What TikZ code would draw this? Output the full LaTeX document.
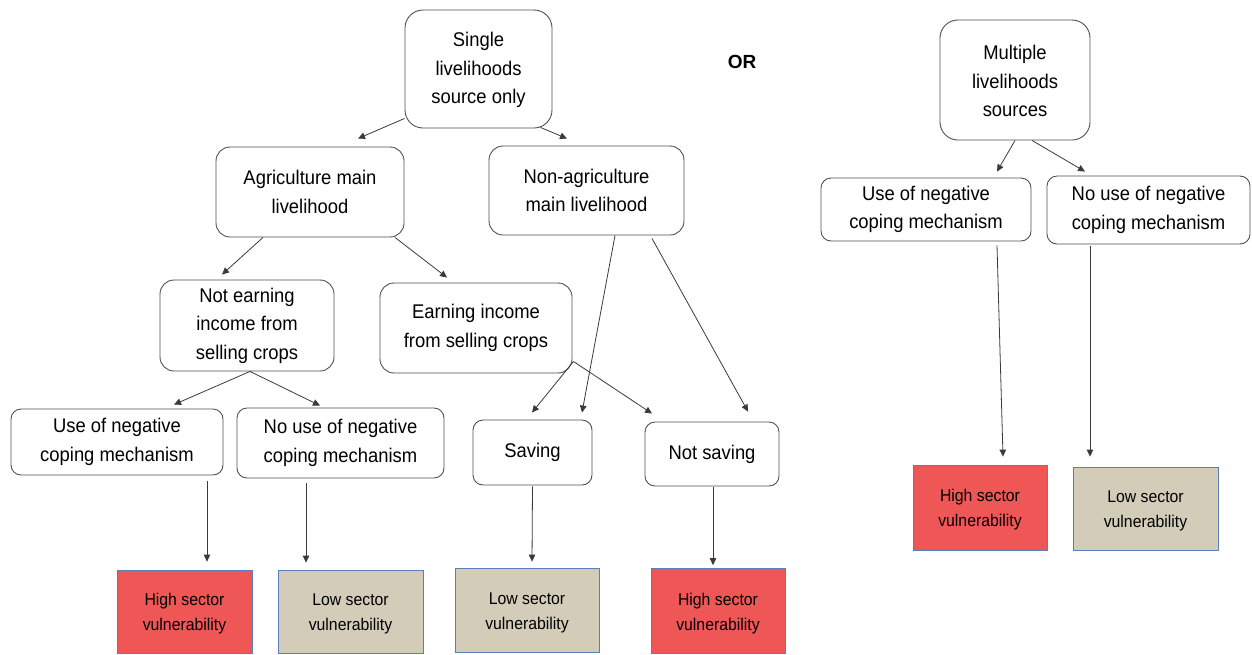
\documentclass[tikz,border=0pt]{standalone}
\usepackage{fontspec}
\setmainfont{Liberation Sans}
\newfontfamily\condf{Liberation Sans}[FakeStretch=0.93]
\usetikzlibrary{arrows.meta}
\definecolor{linec}{HTML}{3A3A3A}
\definecolor{boxc}{HTML}{505050}
\definecolor{highc}{HTML}{EF5656}
\definecolor{lowc}{HTML}{D2CCB9}
\definecolor{edgec}{HTML}{5B7DB8}
\newcommand\bigfnt{\condf\fontsize{19.8}{28.5}\selectfont}
\newcommand\smallfnt{\condf\fontsize{17}{25}\selectfont}
\newcommand\lowstrut{\rule{0pt}{17pt}}
\tikzset{
  box/.style={draw=boxc, line width=0.9pt, rounded corners=14pt, align=center, font=\bigfnt, inner sep=0pt},
  sbox/.style={box, rounded corners=10pt},
  highbox/.style={draw=edgec, line width=0.8pt, fill=highc, align=center, font=\smallfnt, inner sep=0pt},
  lowbox/.style={draw=edgec, line width=0.8pt, fill=lowc, align=center, font=\smallfnt, inner sep=0pt},
  arr/.style={draw=linec, line width=0.8pt, -{Triangle[length=7pt,width=6.5pt]}}
}
\begin{document}
\begin{tikzpicture}[x=1pt,y=-1pt]
\useasboundingbox (0,0) rectangle (1252,654);
% top level
\node[box, rounded corners=18pt, minimum width=147pt, minimum height=118pt] (single) at (478.5,69) {\lowstrut Single\\livelihoods\\source only};
\node[font=\fontsize{19}{23}\selectfont\bfseries] (or) at (742,62) {OR};
\node[box, rounded corners=18pt, minimum width=150pt, minimum height=120pt] (multi) at (1015,80) {\lowstrut Multiple\\livelihoods\\sources};
% second level
\node[box, minimum width=188pt, minimum height=90pt] (agr) at (310,192) {Agriculture main\\livelihood};
\node[box, minimum width=195pt, minimum height=89pt] (nonag) at (586.5,190.5) {Non-agriculture\\main livelihood};
\node[sbox, minimum width=210pt, minimum height=63pt] (useR) at (926,209.5) {Use of negative\\coping mechanism};
\node[sbox, minimum width=203pt, minimum height=68pt] (nouseR) at (1148.5,210) {No use of negative\\coping mechanism};
% third level
\node[box, minimum width=174pt, minimum height=91pt] (notearn) at (247,325.5) {Not earning\\income from\\selling crops};
\node[box, minimum width=192pt, minimum height=90pt] (earn) at (476,328) {Earning income\\from selling crops};
% fourth level
\node[sbox, minimum width=212pt, minimum height=66pt] (useL) at (117,442) {Use of negative\\coping mechanism};
\node[sbox, minimum width=207pt, minimum height=70pt] (nouseL) at (340.5,443) {No use of negative\\coping mechanism};
\node[sbox, minimum width=119pt, minimum height=65pt] (saving) at (532.5,452.5) {Saving};
\node[sbox, minimum width=134pt, minimum height=64pt] (notsaving) at (712,454) {Not saving};
% outcomes
\node[highbox, minimum width=135pt, minimum height=83pt] (high1) at (184.5,611.5) {\lowstrut High sector\\vulnerability};
\node[lowbox, minimum width=145pt, minimum height=83pt] (low1) at (350.5,611.5) {\lowstrut Low sector\\vulnerability};
\node[lowbox, minimum width=144pt, minimum height=84pt] (low2) at (527,610) {\lowstrut Low sector\\vulnerability};
\node[highbox, minimum width=134pt, minimum height=85pt] (high2) at (718,611) {\lowstrut High sector\\vulnerability};
\node[highbox, minimum width=134pt, minimum height=85pt] (high3) at (980,507.5) {\lowstrut High sector\\vulnerability};
\node[lowbox, minimum width=145pt, minimum height=83pt] (low3) at (1145.5,508.5) {\lowstrut Low sector\\vulnerability};
% connectors
\draw[arr] ([yshift=10pt]single.south west) -- ([xshift=48pt,yshift=8pt]agr.north);
\draw[arr] ([xshift=62pt,yshift=1pt]single.south) -- ([xshift=-19.5pt,yshift=7pt]nonag.north);
\draw[arr] (multi.south) -- ([xshift=71pt,yshift=6pt]useR.north);
\draw[arr] ([xshift=17pt]multi.south) -- ([xshift=-63.5pt,yshift=4pt]nouseR.north);
\draw[arr] ([xshift=-47pt]agr.south) -- ([xshift=-25pt,yshift=5pt]notearn.north);
\draw[arr] ([xshift=85pt]agr.south) -- ([xshift=-29pt,yshift=5pt]earn.north);
\draw[arr] ([xshift=28.5pt]nonag.south) -- ([xshift=49.5pt,yshift=7pt]saving.north);
\draw[arr] ([xshift=65.5pt,yshift=-3pt]nonag.south) -- ([xshift=36pt,yshift=10pt]notsaving.north);
\draw[arr] ([xshift=3pt]notearn.south) -- ([xshift=57pt,yshift=4pt]useL.north);
\draw[arr] ([xshift=3pt]notearn.south) -- ([xshift=-20.5pt,yshift=2pt]nouseL.north);
\draw[arr] ([xshift=1pt,yshift=12pt]earn.south east) -- ([xshift=-0.5pt,yshift=7pt]saving.north);
\draw[arr] ([xshift=1pt,yshift=12pt]earn.south east) -- ([xshift=-60pt,yshift=8pt]notsaving.north);
\draw[arr] ([xshift=90pt,yshift=-6pt]useL.south) -- ([xshift=22.5pt,yshift=8pt]high1.north);
\draw[arr] ([xshift=-34.5pt,yshift=-5pt]nouseL.south) -- ([xshift=-44.5pt,yshift=7pt]low1.north);
\draw[arr] ([yshift=-1pt]saving.south) -- ([xshift=5pt,yshift=6pt]low2.north);
\draw[arr] ([xshift=1pt,yshift=-1pt]notsaving.south) -- ([xshift=-5pt,yshift=3pt]high2.north);
\draw[arr] ([xshift=71pt,yshift=-4pt]useR.south) -- ([xshift=23pt,yshift=8pt]high3.north);
\draw[arr] ([xshift=-58.5pt,yshift=-2pt]nouseR.south) -- ([xshift=-55.5pt,yshift=10pt]low3.north);
\end{tikzpicture}
\end{document}
